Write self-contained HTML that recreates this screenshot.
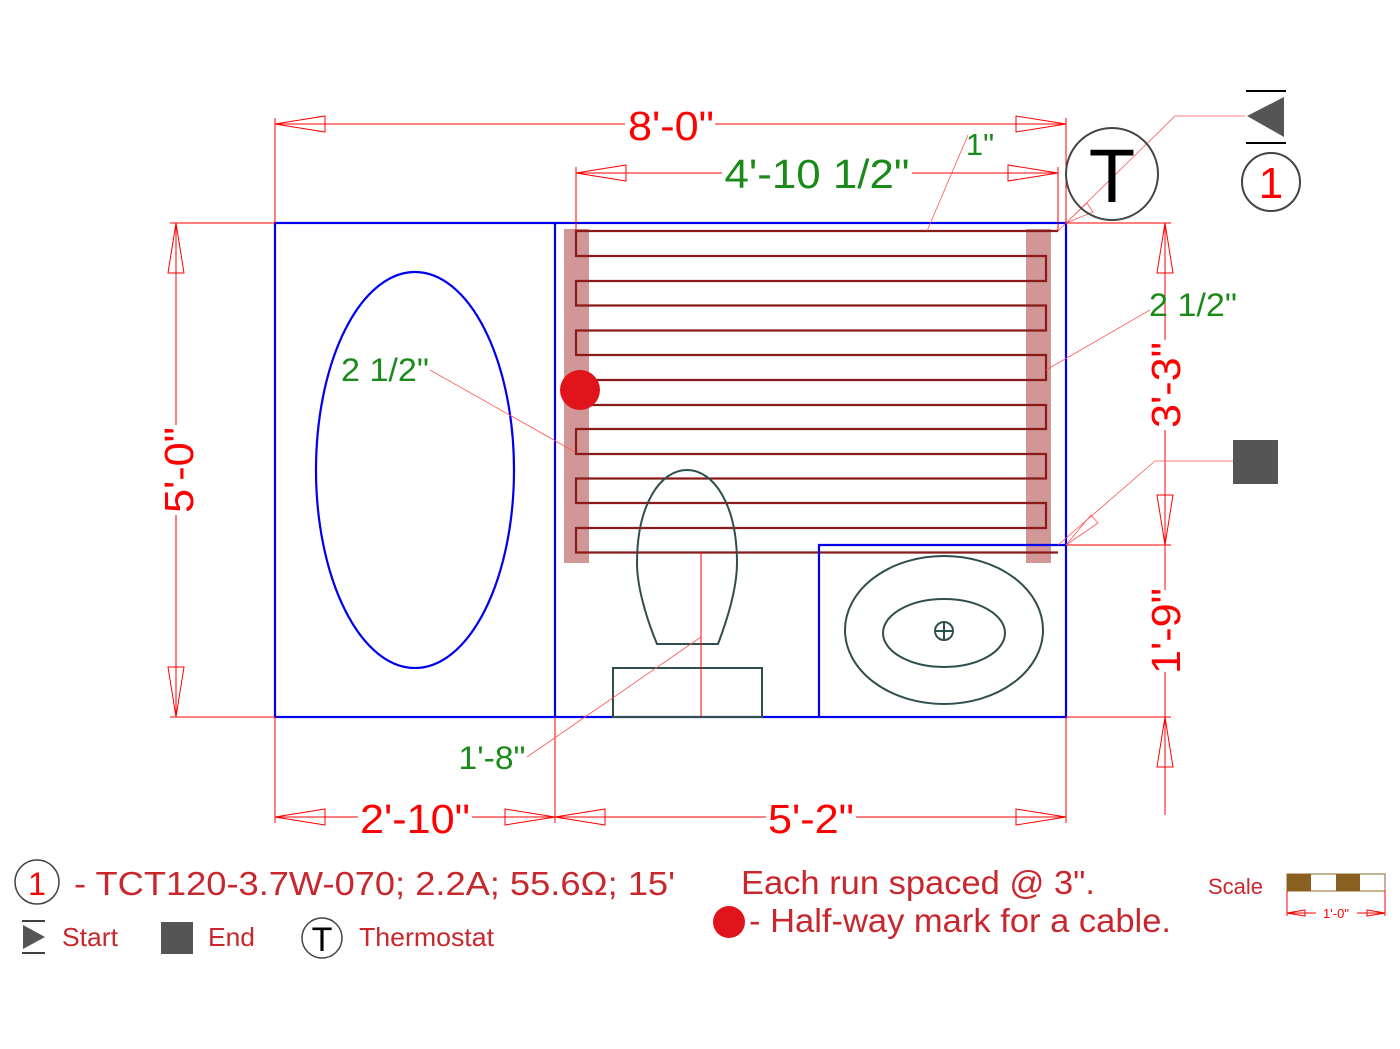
<!DOCTYPE html>
<html><head><meta charset="utf-8"><style>
html,body{margin:0;padding:0;background:#fff;}
svg{display:block;font-family:"Liberation Sans",sans-serif;}
</style></head><body>
<svg width="1400" height="1049" viewBox="0 0 1400 1049" xmlns="http://www.w3.org/2000/svg">
<defs>
<g id="ar"><polygon points="0,0 50,-8 50,8" fill="none" stroke="#f00" stroke-width="1"/></g>
</defs>
<rect x="564" y="229" width="25" height="334" fill="#c98585" opacity="0.85"/>
<rect x="1026" y="229" width="25" height="334" fill="#c98585" opacity="0.85"/>
<polyline fill="none" stroke="#8b1a1a" stroke-width="2.2" points="1058,231 576,231 576,256 1046,256 1046,281 576,281 576,305.5 1046,305.5 1046,330.5 576,330.5 576,355 1046,355 1046,380 576,380 576,405 1046,405 1046,429 576,429 576,454 1046,454 1046,478.5 576,478.5 576,503 1046,503 1046,528 576,528 576,552.5 1058,552.5"/>
<circle cx="580" cy="390" r="20" fill="#e0141a"/>
<g fill="none" stroke="#0000ee" stroke-width="2.2">
<rect x="275" y="223" width="791" height="494"/>
<line x1="555" y1="223" x2="555" y2="717"/>
<polyline points="819,717 819,545 1066,545"/>
<ellipse cx="415" cy="470" rx="99" ry="198"/>
</g>
<g fill="none" stroke="#2f4f4f" stroke-width="2">
<path d="M657,644 C645,615 637,585 637,563 C637,505 660,470 687,470 C714,470 737,505 737,563 C737,585 729,615 718,644 Z"/>
<rect x="613" y="668" width="149" height="49"/>
<ellipse cx="944" cy="630" rx="99" ry="74"/>
<ellipse cx="944" cy="633" rx="61" ry="34"/>
<circle cx="944" cy="631" r="9"/>
<line x1="935" y1="631" x2="953" y2="631"/><line x1="944" y1="622" x2="944" y2="640"/>
</g>
<g stroke="#f00" stroke-width="1" fill="none">
<line x1="275" y1="223" x2="275" y2="118"/><line x1="1066" y1="223" x2="1066" y2="118"/>
<line x1="275" y1="124" x2="625" y2="124"/><line x1="715" y1="124" x2="1066" y2="124"/>
<line x1="576" y1="231" x2="576" y2="167"/><line x1="1058" y1="231" x2="1058" y2="167"/>
<line x1="576" y1="173" x2="722" y2="173"/><line x1="912" y1="173" x2="1058" y2="173"/>
<line x1="275" y1="223" x2="170" y2="223"/><line x1="275" y1="717" x2="170" y2="717"/>
<line x1="176" y1="223" x2="176" y2="425"/><line x1="176" y1="515" x2="176" y2="717"/>
<line x1="1066" y1="223" x2="1171" y2="223"/><line x1="1066" y1="545" x2="1171" y2="545"/><line x1="1066" y1="717" x2="1171" y2="717"/>
<line x1="1165" y1="223" x2="1165" y2="340"/><line x1="1165" y1="430" x2="1165" y2="590"/><line x1="1165" y1="672" x2="1165" y2="815"/>
<line x1="275" y1="717" x2="275" y2="823"/><line x1="555" y1="717" x2="555" y2="823"/><line x1="1066" y1="717" x2="1066" y2="823"/>
<line x1="275" y1="817" x2="358" y2="817"/><line x1="472" y1="817" x2="555" y2="817"/>
<line x1="555" y1="817" x2="766" y2="817"/><line x1="856" y1="817" x2="1066" y2="817"/>
<line x1="701" y1="552" x2="701" y2="717"/>
</g>
<g>
<use href="#ar" transform="translate(275,124)"/><use href="#ar" transform="translate(1066,124) rotate(180)"/>
<use href="#ar" transform="translate(576,173)"/><use href="#ar" transform="translate(1058,173) rotate(180)"/>
<use href="#ar" transform="translate(176,223) rotate(90)"/><use href="#ar" transform="translate(176,717) rotate(-90)"/>
<use href="#ar" transform="translate(1165,223) rotate(90)"/><use href="#ar" transform="translate(1165,545) rotate(-90)"/>
<use href="#ar" transform="translate(1165,717) rotate(90)"/>
<use href="#ar" transform="translate(275,817)"/><use href="#ar" transform="translate(555,817) rotate(180)"/>
<use href="#ar" transform="translate(555,817)"/><use href="#ar" transform="translate(1066,817) rotate(180)"/>
</g>
<g stroke="#f55" stroke-width="0.8" fill="none">
<line x1="927" y1="231" x2="968" y2="135"/>
<line x1="430" y1="370" x2="575" y2="452"/>
<line x1="1150" y1="310" x2="1046" y2="370"/>
<line x1="527" y1="757" x2="701" y2="637"/>
<polyline points="1058,231 1175,116 1245,116"/>
<polyline points="1058,545 1155,461 1233,461"/>
<polygon points="1066,223 1087,203 1093,212"/>
<polygon points="1066,545 1091,515 1098,523"/>
</g>
<g fill="#f00" font-size="41" text-anchor="middle">
<text x="671" y="140" textLength="86" lengthAdjust="spacingAndGlyphs">8'-0"</text>
<text x="415" y="833" textLength="110" lengthAdjust="spacingAndGlyphs">2'-10"</text>
<text x="811" y="833" textLength="86" lengthAdjust="spacingAndGlyphs">5'-2"</text>
<text transform="translate(193,470) rotate(-90)" textLength="86" lengthAdjust="spacingAndGlyphs">5'-0"</text>
<text transform="translate(1180,385) rotate(-90)" textLength="86" lengthAdjust="spacingAndGlyphs">3'-3"</text>
<text transform="translate(1180,631) rotate(-90)" textLength="86" lengthAdjust="spacingAndGlyphs">1'-9"</text>
</g>
<g fill="#1a8a1a" text-anchor="middle">
<text x="817" y="188" font-size="41" textLength="185" lengthAdjust="spacingAndGlyphs">4'-10 1/2"</text>
<text x="980" y="155" font-size="31">1"</text>
<text x="385" y="381" font-size="32" textLength="88" lengthAdjust="spacingAndGlyphs">2 1/2"</text>
<text x="1193" y="316" font-size="32" textLength="88" lengthAdjust="spacingAndGlyphs">2 1/2"</text>
<text x="492" y="769" font-size="32" textLength="67" lengthAdjust="spacingAndGlyphs">1'-8"</text>
</g>
<circle cx="1112" cy="174" r="46" fill="none" stroke="#444" stroke-width="2"/>
<text x="1112" y="202" font-size="76" text-anchor="middle" fill="#000">T</text>
<line x1="1246" y1="91" x2="1286" y2="91" stroke="#000" stroke-width="2"/>
<line x1="1246" y1="143" x2="1286" y2="143" stroke="#000" stroke-width="2"/>
<polygon points="1247,116 1284,97 1284,137" fill="#555"/>
<circle cx="1271" cy="182" r="29" fill="none" stroke="#444" stroke-width="2"/>
<text x="1271" y="198" font-size="44" text-anchor="middle" fill="#f00">1</text>
<rect x="1233" y="440" width="45" height="44" fill="#555"/>
<circle cx="37" cy="882" r="22" fill="none" stroke="#444" stroke-width="1.5"/>
<text x="37" y="895" font-size="32" text-anchor="middle" fill="#f00">1</text>
<g fill="#c8282d">
<text x="74" y="895" font-size="33" textLength="601" lengthAdjust="spacingAndGlyphs">- TCT120-3.7W-070; 2.2A; 55.6Ω; 15'</text>
<text x="62" y="946" font-size="26" textLength="56" lengthAdjust="spacingAndGlyphs">Start</text>
<text x="208" y="946" font-size="26" textLength="47" lengthAdjust="spacingAndGlyphs">End</text>
<text x="359" y="946" font-size="26" textLength="135" lengthAdjust="spacingAndGlyphs">Thermostat</text>
<text x="741" y="894" font-size="33" textLength="354" lengthAdjust="spacingAndGlyphs">Each run spaced @ 3".</text>
<text x="749" y="932" font-size="33" textLength="422" lengthAdjust="spacingAndGlyphs">- Half-way mark for a cable.</text>
<text x="1208" y="894" font-size="22">Scale</text>
</g>
<line x1="22" y1="921" x2="45" y2="921" stroke="#000" stroke-width="1.5"/>
<line x1="22" y1="953" x2="45" y2="953" stroke="#000" stroke-width="1.5"/>
<polygon points="23,925 45,937 23,949" fill="#555"/>
<rect x="161" y="922" width="32" height="32" fill="#555"/>
<circle cx="322" cy="938" r="20" fill="none" stroke="#444" stroke-width="1.5"/>
<text x="322" y="951" font-size="34" text-anchor="middle" fill="#000">T</text>
<circle cx="729" cy="922" r="16" fill="#e0141a"/>
<rect x="1287" y="874" width="98" height="17" fill="#fff" stroke="#8a6a2a" stroke-width="1"/>
<rect x="1287" y="874" width="24" height="17" fill="#8a6020"/>
<rect x="1336" y="874" width="24" height="17" fill="#8a6020"/>
<g stroke="#f00" stroke-width="1" fill="none">
<line x1="1287" y1="891" x2="1287" y2="916"/><line x1="1385" y1="891" x2="1385" y2="916"/>
<line x1="1287" y1="913" x2="1316" y2="913"/><line x1="1357" y1="913" x2="1385" y2="913"/>
<polygon points="1287,913 1305,910 1305,916"/><polygon points="1385,913 1367,910 1367,916"/>
</g>
<text x="1336" y="918" font-size="13" text-anchor="middle" fill="#f00">1'-0"</text>
</svg>
</body></html>
